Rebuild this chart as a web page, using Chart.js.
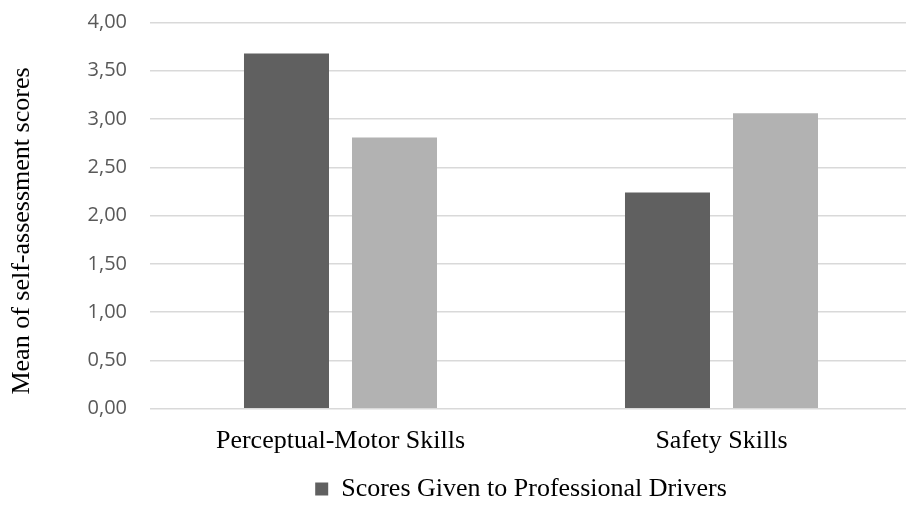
<!DOCTYPE html>
<html>
<head>
<meta charset="utf-8">
<script src="https://cdn.jsdelivr.net/npm/chart.js@4/dist/chart.umd.min.js"></script>
<style>
  html, body { margin: 0; padding: 0; background: #ffffff; overflow: hidden; width: 906px; height: 512px; }
  #wrap { position: relative; width: 912px; height: 512px; }
  canvas { display: block; }
</style>
</head>
<body>
<div id="wrap"><canvas id="c" width="912" height="512"></canvas></div>
<script>
const categories = ["Perceptual-Motor Skills", "Safety Skills"];
const seriesNames = ["Scores Given to Professional Drivers", "Scores Given to Self"];
const professionalScores = [3.68, 2.24];
const selfScores = [2.81, 3.06];
const yTicks = [0, 0.5, 1, 1.5, 2, 2.5, 3, 3.5, 4];
const yAxisTitle = "Mean of self-assessment scores";

const SERIF = '"Liberation Serif", "Times New Roman", serif';
const SANS = '"Open Sans", "Noto Sans", sans-serif';

const yTitlePlugin = {
  id: 'yTitlePlugin',
  afterDraw(chart) {
    const ctx = chart.ctx;
    ctx.save();
    ctx.translate(22, 231);
    ctx.rotate(-Math.PI / 2);
    ctx.font = '26px ' + SERIF;
    ctx.fillStyle = '#000000';
    ctx.textAlign = 'center';
    ctx.textBaseline = 'middle';
    ctx.fillText(yAxisTitle, 0, 0);
    ctx.restore();
  }
};

const LEGEND_DX = 65;
const legendShift = {
  id: 'legendShift',
  afterLayout(chart) {
    if (chart.legend) {
      chart.legend.left += LEGEND_DX;
      chart.legend.right += LEGEND_DX;
    }
  }
};

new Chart(document.getElementById('c'), {
  type: 'bar',
  data: {
    labels: categories,
    datasets: [
      {
        label: seriesNames[0],
        data: professionalScores,
        backgroundColor: '#606060',
        borderWidth: 0,
        barPercentage: 0.787,
        categoryPercentage: 0.567
      },
      {
        label: seriesNames[1],
        data: selfScores,
        backgroundColor: '#b2b2b2',
        borderWidth: 0,
        barPercentage: 0.787,
        categoryPercentage: 0.567
      }
    ]
  },
  options: {
    responsive: false,
    animation: false,
    devicePixelRatio: 1,
    layout: { padding: { top: 22.5, left: 0, right: 0, bottom: 0 } },
    scales: {
      x: {
        grid: { display: false, drawTicks: false },
        border: { display: false },
        ticks: {
          font: { family: SERIF, size: 26 },
          color: '#000000',
          padding: 17,
          maxRotation: 0
        },
        afterFit(scale) { scale.height = 61.3; }
      },
      y: {
        min: 0,
        max: 4,
        afterBuildTicks(scale) { scale.ticks = yTicks.map(v => ({ value: v })); },
        grid: { color: '#d9d9d9', lineWidth: 1.5, drawTicks: false },
        border: { display: false },
        ticks: {
          font: { family: SANS, size: 20 },
          color: '#595959',
          padding: 23,
          callback: (v) => Number(v).toFixed(2).replace('.', ',')
        },
        afterFit(scale) {
          scale.width = 150;
          scale.paddingTop = 0;
          scale.paddingBottom = 0;
        }
      }
    },
    plugins: {
      legend: {
        position: 'bottom',
        labels: {
          font: { family: SERIF, size: 26 },
          color: '#000000',
          boxWidth: 13,
          boxHeight: 13,
          padding: 6,
          filter: (item) => item.datasetIndex === 0
        }
      },
      tooltip: { enabled: false }
    }
  },
  plugins: [yTitlePlugin, legendShift]
});
</script>
</body>
</html>
